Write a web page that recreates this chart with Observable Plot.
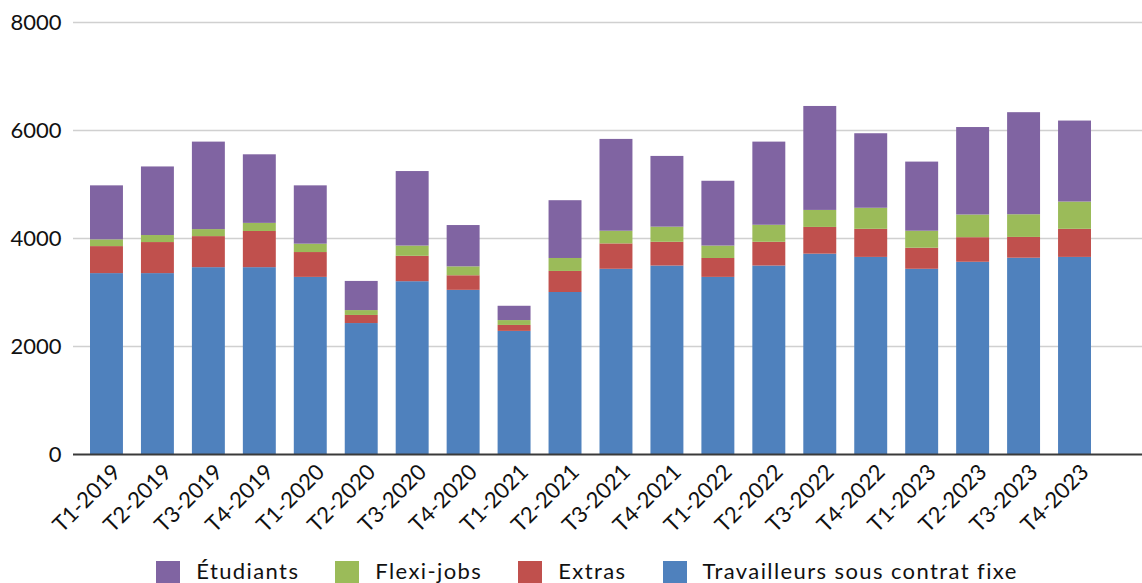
<!DOCTYPE html>
<html>
<head>
<meta charset="utf-8">
<script src="https://cdn.jsdelivr.net/npm/d3@7"></script>
<script src="https://cdn.jsdelivr.net/npm/@observablehq/plot@0.6"></script>
<style>
  html, body { margin: 0; padding: 0; background: #fff; }
  #wrap { position: relative; width: 1142px; height: 583px; overflow: hidden; font-family: Lato, "Noto Sans", sans-serif; }
  #legend { position: absolute; left: 73px; width: 1028px; top: 559px; display: flex; justify-content: center; align-items: flex-start; }
  .item { display: flex; align-items: flex-start; margin: 0 18px; }
  .sw { width: 24px; height: 24px; margin-top: 2px; margin-right: 16px; }
  .lab { font-size: 22px; line-height: 20px; letter-spacing: 1.4px; color: #111; margin-top: 2px; }
</style>
</head>
<body>
<div id="wrap"><div id="chart"></div><div id="legend"></div></div>
<script>
const quarters = ["T1-2019","T2-2019","T3-2019","T4-2019","T1-2020","T2-2020","T3-2020","T4-2020","T1-2021","T2-2021","T3-2021","T4-2021","T1-2022","T2-2022","T3-2022","T4-2022","T1-2023","T2-2023","T3-2023","T4-2023"];
const travailleurs = [3350,3350,3460,3460,3280,2425,3200,3040,2280,3000,3430,3490,3280,3490,3710,3650,3430,3560,3635,3650];
const extras       = [500,575,575,670,460,150,470,270,110,390,470,440,350,440,495,520,390,455,385,520];
const flexi        = [125,130,130,150,155,90,190,165,90,240,235,280,230,315,315,390,315,420,420,505];
const etudiants    = [1000,1270,1620,1270,1080,540,1380,765,265,1070,1700,1310,1200,1540,1925,1380,1280,1620,1890,1500];
const seriesNames  = ["Travailleurs sous contrat fixe","Extras","Flexi-jobs","Étudiants"];
const seriesColors = ["#4F81BD","#C0504D","#9BBB59","#8064A2"];
const legendOrder  = ["Étudiants","Flexi-jobs","Extras","Travailleurs sous contrat fixe"];
const yTicks = [0,2000,4000,6000,8000];

const seriesValues = [travailleurs, extras, flexi, etudiants];
const rows = [];
quarters.forEach((q, i) => {
  seriesNames.forEach((s, j) => rows.push({q, s, v: seriesValues[j][i]}));
});

const chart = Plot.plot({
  width: 1142,
  height: 548,
  marginLeft: 81,
  marginRight: 42,
  marginTop: 22,
  marginBottom: 94,
  style: {fontFamily: "Lato, 'Noto Sans', sans-serif", color: "#111", background: "#fff", overflow: "visible"},
  x: {domain: quarters, padding: 0, round: false, axis: null},
  y: {domain: [0, 8000], axis: null},
  color: {domain: seriesNames, range: seriesColors},
  marks: [
    Plot.ruleY(yTicks.filter(d => d > 0), {stroke: "#d0d0d0", strokeWidth: 1.5, insetLeft: -8, insetRight: -42}),
    Plot.barY(rows, {x: "q", y: "v", fill: "s", order: seriesNames, insetLeft: 9, insetRight: 9}),
    Plot.ruleY([0], {stroke: "#3a3a3a", strokeWidth: 2, insetLeft: -8, insetRight: -42}),
    Plot.axisY({ticks: yTicks, tickSize: 0, tickPadding: 20, fontSize: 22, tickFormat: d3.format("d"), label: null}),
    Plot.text(quarters, {x: d => d, frameAnchor: "bottom", rotate: -45, textAnchor: "end", lineAnchor: "middle", dx: 10, dy: 14, fontSize: 22})
  ]
});
document.getElementById("chart").appendChild(chart);

const legend = document.getElementById("legend");
legendOrder.forEach(name => {
  const item = document.createElement("div");
  item.className = "item";
  const sw = document.createElement("div");
  sw.className = "sw";
  sw.style.background = seriesColors[seriesNames.indexOf(name)];
  const lab = document.createElement("div");
  lab.className = "lab";
  lab.textContent = name;
  item.appendChild(sw);
  item.appendChild(lab);
  legend.appendChild(item);
});
</script>
</body>
</html>
